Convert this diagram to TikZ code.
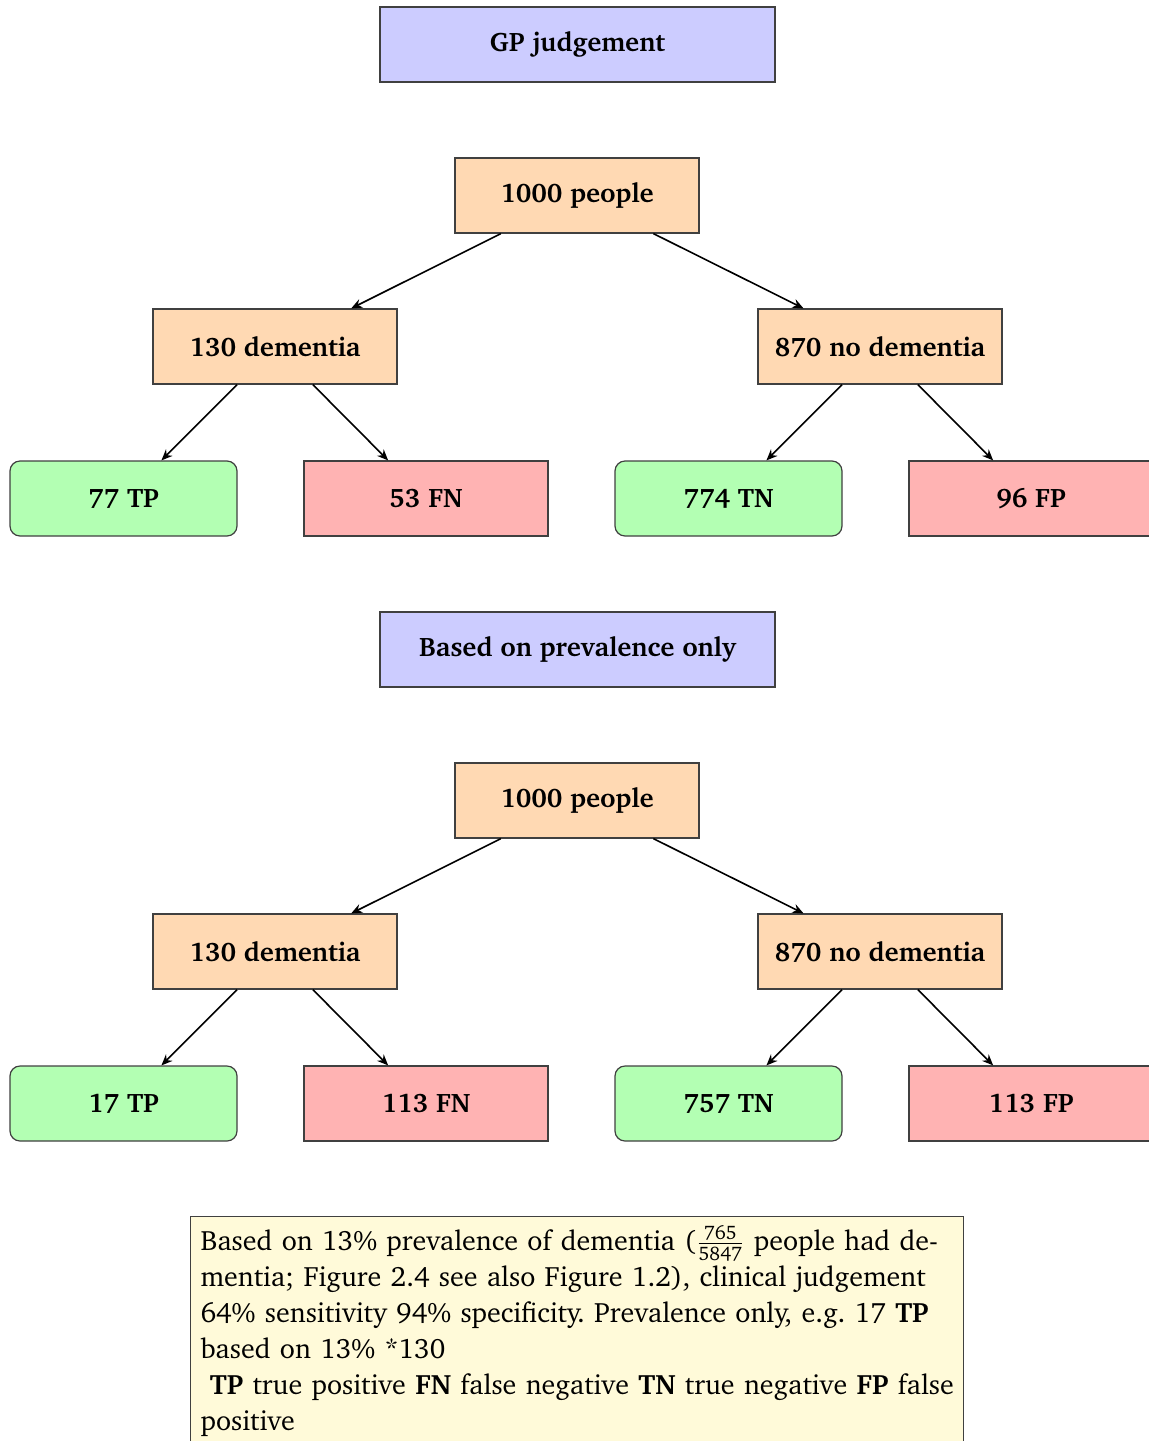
\documentclass[tikz,border=0pt]{standalone}
\usepackage[T1]{fontenc}
\usepackage{charter}
\usetikzlibrary{arrows.meta}

\definecolor{headblue}{RGB}{204,204,255}
\definecolor{peach}{RGB}{255,217,179}
\definecolor{goodgreen}{RGB}{179,255,179}
\definecolor{badred}{RGB}{255,179,179}
\definecolor{notecream}{RGB}{255,250,217}

\newcommand{\numsmall}[1]{\mbox{\fontsize{9.8}{10}\selectfont #1}}

\tikzset{
  box/.style={draw=black!75, line width=0.6pt, minimum height=37.5pt,
    inner sep=0pt, font=\fontsize{13.4}{16}\selectfont\bfseries},
  headbox/.style={box, fill=headblue, minimum width=197.5pt},
  countbox/.style={box, fill=peach, minimum width=122pt},
  goodbox/.style={box, fill=goodgreen, minimum width=113.5pt, rounded corners=5pt},
  badbox/.style={box, fill=badred, minimum width=122pt},
  arr/.style={-{Stealth[length=5.5pt,width=4.6pt]}, line width=0.8pt},
  notebox/.style={draw=black!75, line width=0.6pt, fill=notecream, anchor=north west,
    text width=376.5pt, inner xsep=5pt, inner ysep=4.5pt, align=left,
    font=\fontsize{14}{18}\selectfont\frenchspacing}
}

\begin{document}
\begin{tikzpicture}[x=0.5pt,y=-0.5pt]
\useasboundingbox (0,0) rectangle (1149,1441);
\clip (0,0) rectangle (1149,1441);

% Tree drawn from the GP's clinical judgement
\node[headbox] (gp) at (577.5,44.5) {GP judgement};
\node[countbox] (allA) at (577,195.5) {1000 people};
\node[countbox] (demA) at (275,346.5) {130 dementia};
\node[countbox] (nodA) at (880,346.5) {870 no dementia};
\node[goodbox] (tpA) at (123.5,498.5) {77 TP};
\node[badbox] (fnA) at (426,498.5) {53 FN};
\node[goodbox] (tnA) at (728.5,498.5) {774 TN};
\node[badbox] (fpA) at (1031,498.5) {96 FP};

\draw[arr] (allA) -- (demA);
\draw[arr] (allA) -- (nodA);
\draw[arr] (demA) -- (tpA);
\draw[arr] (demA) -- (fnA);
\draw[arr] (nodA) -- (tnA);
\draw[arr] (nodA) -- (fpA);

% Tree drawn from prevalence alone
\node[headbox] (prev) at (577.5,649.5) {Based on prevalence only};
\node[countbox] (allB) at (577,800.5) {1000 people};
\node[countbox] (demB) at (275,951.5) {130 dementia};
\node[countbox] (nodB) at (880,951.5) {870 no dementia};
\node[goodbox] (tpB) at (123.5,1103.5) {17 TP};
\node[badbox] (fnB) at (426,1103.5) {113 FN};
\node[goodbox] (tnB) at (728.5,1103.5) {757 TN};
\node[badbox] (fpB) at (1031,1103.5) {113 FP};

\draw[arr] (allB) -- (demB);
\draw[arr] (allB) -- (nodB);
\draw[arr] (demB) -- (tpB);
\draw[arr] (demB) -- (fnB);
\draw[arr] (nodB) -- (tnB);
\draw[arr] (nodB) -- (fpB);

% Explanatory note
\node[notebox] (note) at (190,1216) {Based on 13\% prevalence of dementia ($\frac{\numsmall{765}}{\numsmall{5847}}$ people had de-\\
mentia; Figure 2.4 see also Figure 1.2), clinical judgement\\
64\% sensitivity 94\% specificity. Prevalence only, e.g. 17 \textbf{TP}\\
based on 13\% *130\\
\mbox{\ \textbf{TP} true positive \textbf{FN} false negative \textbf{TN} true negative \textbf{FP} false}\\
positive\\[40pt]};
\end{tikzpicture}
\end{document}
